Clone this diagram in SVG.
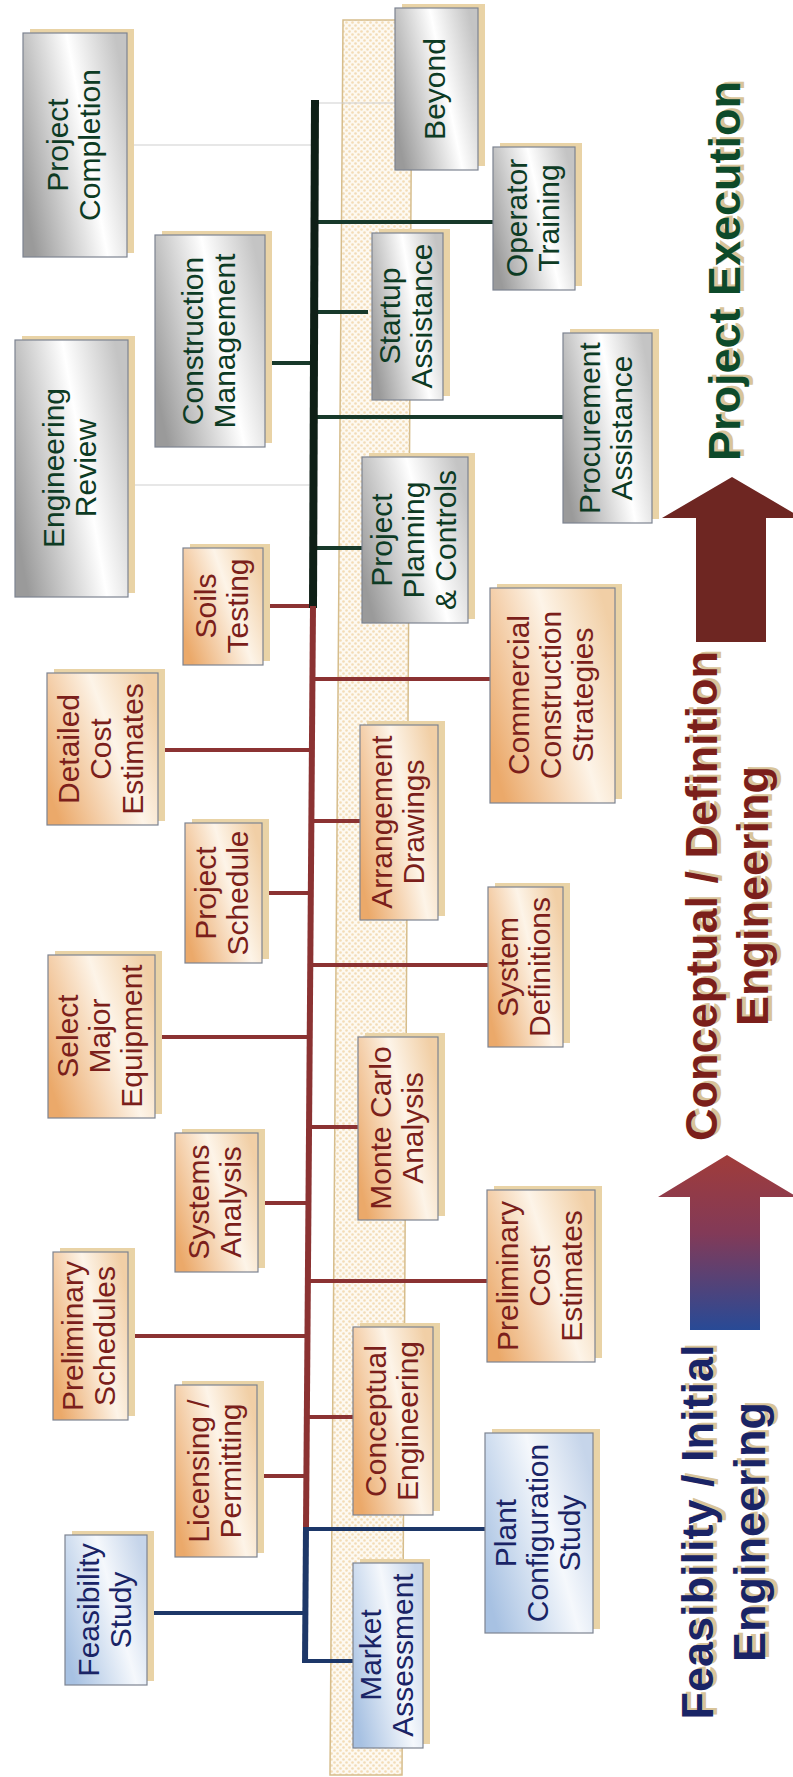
<svg xmlns="http://www.w3.org/2000/svg" width="793" height="1777" viewBox="0 0 793 1777">
<defs>
<style>
.box{stroke:#7d8491;stroke-width:1.2}
.g{fill:url(#gGrey)}
.o{fill:url(#gOrange)}
.b{fill:url(#gBlue)}
.sh{fill:#e9d3a6}
.t{font-family:"Liberation Sans",Arial,sans-serif;font-size:30px;text-anchor:middle}
.tg{fill:#0d3b24}
.tr{fill:#7b1f1b}
.tb{fill:#1a2466}
.cg{stroke:#17392a;stroke-width:4;fill:none}
.cr{stroke:#8b3232;stroke-width:4;fill:none}
.cb{stroke:#1d3768;stroke-width:4;fill:none}
.thin{stroke:#cfcfcf;stroke-width:1.2;fill:none}
.big{font-family:"Liberation Sans",Arial,sans-serif;font-size:45px;font-weight:bold;text-anchor:middle}
.bsh{fill:#d8c49a}
</style>
<linearGradient id="gGrey" x1="0" y1="0.7" x2="1" y2="0.3">
<stop offset="0" stop-color="#9a9a9a"/><stop offset="0.6" stop-color="#ffffff"/><stop offset="1" stop-color="#c4c4c4"/>
</linearGradient>
<linearGradient id="gOrange" x1="0" y1="0.75" x2="1" y2="0.25">
<stop offset="0" stop-color="#eba96a"/><stop offset="0.6" stop-color="#fdf4e8"/><stop offset="1" stop-color="#f1cfa6"/>
</linearGradient>
<linearGradient id="gBlue" x1="0" y1="0.75" x2="1" y2="0.25">
<stop offset="0" stop-color="#a7c1e2"/><stop offset="0.6" stop-color="#f5f8fc"/><stop offset="1" stop-color="#c6d5ea"/>
</linearGradient>
<linearGradient id="gArrow" x1="0" y1="0" x2="0" y2="1">
<stop offset="0" stop-color="#a03c3a"/><stop offset="0.45" stop-color="#823a58"/><stop offset="1" stop-color="#284a96"/>
</linearGradient>
<pattern id="dots" width="6" height="6" patternUnits="userSpaceOnUse">
<rect width="6" height="6" fill="#fdf9f1"/>
<circle cx="1.5" cy="1.5" r="1.3" fill="#f3dcb6"/>
<circle cx="4.5" cy="4.5" r="1.3" fill="#f3dcb6"/>
</pattern>
</defs>
<rect width="793" height="1777" fill="#ffffff"/>

<g id="band">
<polygon points="343,20 412,20 402,1775 330,1775" fill="url(#dots)" stroke="#d6bd8c" stroke-width="1.5"/>
</g>

<g id="connectors">
<line class="thin" x1="127" y1="145" x2="313" y2="145"/>
<line class="thin" x1="128" y1="485" x2="313" y2="485"/>
<line class="thin" x1="315" y1="103" x2="395" y2="103"/>
<line class="cg" x1="265" y1="363" x2="315" y2="363"/>
<line class="cg" x1="315" y1="312" x2="368" y2="312"/>
<line class="cg" x1="315" y1="222" x2="493" y2="222"/>
<line class="cg" x1="315" y1="417" x2="563" y2="417"/>
<line class="cg" x1="314" y1="548" x2="362" y2="548"/>
<line class="cr" x1="263" y1="606" x2="313" y2="606"/>
<line class="cr" x1="312" y1="679" x2="490" y2="679"/>
<line class="cr" x1="158" y1="750" x2="312" y2="750"/>
<line class="cr" x1="312" y1="821" x2="360" y2="821"/>
<line class="cr" x1="262" y1="893" x2="311" y2="893"/>
<line class="cr" x1="311" y1="965" x2="488" y2="965"/>
<line class="cr" x1="155" y1="1037" x2="310" y2="1037"/>
<line class="cr" x1="310" y1="1127" x2="358" y2="1127"/>
<line class="cr" x1="258" y1="1203" x2="309" y2="1203"/>
<line class="cr" x1="309" y1="1281" x2="487" y2="1281"/>
<line class="cr" x1="128" y1="1336" x2="308" y2="1336"/>
<line class="cr" x1="308" y1="1417" x2="353" y2="1417"/>
<line class="cr" x1="257" y1="1476" x2="307" y2="1476"/>
<line class="cb" x1="305" y1="1529" x2="485" y2="1529"/>
<line class="cb" x1="147" y1="1613" x2="305" y2="1613"/>
<line class="cb" x1="305" y1="1661" x2="353" y2="1661"/>
<line x1="315" y1="100" x2="313" y2="608" stroke="#0e1f16" stroke-width="8"/>
<line x1="313" y1="606" x2="306" y2="1529" stroke="#8b3232" stroke-width="6"/>
<line x1="306" y1="1527" x2="305" y2="1663" stroke="#1d3768" stroke-width="6"/>
</g>

<g id="n-project-completion"><rect class="sh" x="30" y="29" width="104" height="224"/><rect class="box g" x="23" y="33" width="104" height="224"/>
<text class="t tg" transform="translate(75,145) rotate(-90)"><tspan x="0" y="-7">Project</tspan><tspan x="0" y="25">Completion</tspan></text></g>
<g id="n-engineering-review"><rect class="sh" x="22" y="336" width="113" height="257"/><rect class="box g" x="15" y="340" width="113" height="257"/>
<text class="t tg" transform="translate(71,468) rotate(-90)"><tspan x="0" y="-7">Engineering</tspan><tspan x="0" y="25">Review</tspan></text></g>
<g id="n-construction-management"><rect class="sh" x="162" y="231" width="110" height="212"/><rect class="box g" x="155" y="235" width="110" height="212"/>
<text class="t tg" transform="translate(210,341) rotate(-90)"><tspan x="0" y="-7">Construction</tspan><tspan x="0" y="25">Management</tspan></text></g>
<g id="n-beyond"><rect class="sh" x="402" y="4" width="83" height="162"/><rect class="box g" x="395" y="8" width="83" height="162"/>
<text class="t tg" transform="translate(436,89) rotate(-90)"><tspan x="0" y="9">Beyond</tspan></text></g>
<g id="n-startup-assistance"><rect class="sh" x="379" y="229" width="71" height="167"/><rect class="box g" x="372" y="233" width="71" height="167"/>
<text class="t tg" transform="translate(407,316) rotate(-90)"><tspan x="0" y="-7">Startup</tspan><tspan x="0" y="25">Assistance</tspan></text></g>
<g id="n-operator-training"><rect class="sh" x="500" y="143" width="82" height="143"/><rect class="box g" x="493" y="147" width="82" height="143"/>
<text class="t tg" transform="translate(534,218) rotate(-90)"><tspan x="0" y="-7">Operator</tspan><tspan x="0" y="25">Training</tspan></text></g>
<g id="n-procurement-assistance"><rect class="sh" x="570" y="329" width="89" height="190"/><rect class="box g" x="563" y="333" width="89" height="190"/>
<text class="t tg" transform="translate(607,428) rotate(-90)"><tspan x="0" y="-7">Procurement</tspan><tspan x="0" y="25">Assistance</tspan></text></g>
<g id="n-project-planning"><rect class="sh" x="369" y="453" width="106" height="166"/><rect class="box g" x="362" y="457" width="106" height="166"/>
<text class="t tg" transform="translate(415,540) rotate(-90)"><tspan x="0" y="-23">Project</tspan><tspan x="0" y="9">Planning</tspan><tspan x="0" y="41">&amp; Controls</tspan></text></g>

<g id="n-soils-testing"><rect class="sh" x="190" y="544" width="80" height="117"/><rect class="box o" x="183" y="548" width="80" height="117"/>
<text class="t tr" transform="translate(223,606) rotate(-90)"><tspan x="0" y="-7">Soils</tspan><tspan x="0" y="25">Testing</tspan></text></g>
<g id="n-commercial"><rect class="sh" x="497" y="584" width="125" height="215"/><rect class="box o" x="490" y="588" width="125" height="215"/>
<text class="t tr" transform="translate(552,695) rotate(-90)"><tspan x="0" y="-23">Commercial</tspan><tspan x="0" y="9">Construction</tspan><tspan x="0" y="41">Strategies</tspan></text></g>
<g id="n-detailed-cost"><rect class="sh" x="54" y="669" width="111" height="152"/><rect class="box o" x="47" y="673" width="111" height="152"/>
<text class="t tr" transform="translate(102,749) rotate(-90)"><tspan x="0" y="-23">Detailed</tspan><tspan x="0" y="9">Cost</tspan><tspan x="0" y="41">Estimates</tspan></text></g>
<g id="n-arrangement"><rect class="sh" x="367" y="721" width="78" height="195"/><rect class="box o" x="360" y="725" width="78" height="195"/>
<text class="t tr" transform="translate(399,822) rotate(-90)"><tspan x="0" y="-7">Arrangement</tspan><tspan x="0" y="25">Drawings</tspan></text></g>
<g id="n-project-schedule"><rect class="sh" x="192" y="819" width="77" height="140"/><rect class="box o" x="185" y="823" width="77" height="140"/>
<text class="t tr" transform="translate(223,893) rotate(-90)"><tspan x="0" y="-7">Project</tspan><tspan x="0" y="25">Schedule</tspan></text></g>
<g id="n-system-definitions"><rect class="sh" x="495" y="883" width="75" height="160"/><rect class="box o" x="488" y="887" width="75" height="160"/>
<text class="t tr" transform="translate(525,967) rotate(-90)"><tspan x="0" y="-7">System</tspan><tspan x="0" y="25">Definitions</tspan></text></g>
<g id="n-select-major"><rect class="sh" x="55" y="951" width="107" height="163"/><rect class="box o" x="48" y="955" width="107" height="163"/>
<text class="t tr" transform="translate(101,1036) rotate(-90)"><tspan x="0" y="-23">Select</tspan><tspan x="0" y="9">Major</tspan><tspan x="0" y="41">Equipment</tspan></text></g>
<g id="n-monte-carlo"><rect class="sh" x="365" y="1033" width="80" height="183"/><rect class="box o" x="358" y="1037" width="80" height="183"/>
<text class="t tr" transform="translate(398,1128) rotate(-90)"><tspan x="0" y="-7">Monte Carlo</tspan><tspan x="0" y="25">Analysis</tspan></text></g>
<g id="n-systems-analysis"><rect class="sh" x="182" y="1129" width="83" height="139"/><rect class="box o" x="175" y="1133" width="83" height="139"/>
<text class="t tr" transform="translate(216,1202) rotate(-90)"><tspan x="0" y="-7">Systems</tspan><tspan x="0" y="25">Analysis</tspan></text></g>
<g id="n-preliminary-cost"><rect class="sh" x="494" y="1186" width="108" height="172"/><rect class="box o" x="487" y="1190" width="108" height="172"/>
<text class="t tr" transform="translate(541,1276) rotate(-90)"><tspan x="0" y="-23">Preliminary</tspan><tspan x="0" y="9">Cost</tspan><tspan x="0" y="41">Estimates</tspan></text></g>
<g id="n-preliminary-schedules"><rect class="sh" x="60" y="1248" width="75" height="168"/><rect class="box o" x="53" y="1252" width="75" height="168"/>
<text class="t tr" transform="translate(90,1336) rotate(-90)"><tspan x="0" y="-7">Preliminary</tspan><tspan x="0" y="25">Schedules</tspan></text></g>
<g id="n-conceptual-engineering"><rect class="sh" x="360" y="1323" width="80" height="188"/><rect class="box o" x="353" y="1327" width="80" height="188"/>
<text class="t tr" transform="translate(393,1421) rotate(-90)"><tspan x="0" y="-7">Conceptual</tspan><tspan x="0" y="25">Engineering</tspan></text></g>
<g id="n-licensing"><rect class="sh" x="182" y="1381" width="82" height="172"/><rect class="box o" x="175" y="1385" width="82" height="172"/>
<text class="t tr" transform="translate(216,1471) rotate(-90)"><tspan x="0" y="-7">Licensing /</tspan><tspan x="0" y="25">Permitting</tspan></text></g>

<g id="n-plant-configuration"><rect class="sh" x="492" y="1429" width="108" height="200"/><rect class="box b" x="485" y="1433" width="108" height="200"/>
<text class="t tb" transform="translate(539,1533) rotate(-90)"><tspan x="0" y="-23">Plant</tspan><tspan x="0" y="9">Configuration</tspan><tspan x="0" y="41">Study</tspan></text></g>
<g id="n-feasibility-study"><rect class="sh" x="72" y="1531" width="82" height="150"/><rect class="box b" x="65" y="1535" width="82" height="150"/>
<text class="t tb" transform="translate(106,1610) rotate(-90)"><tspan x="0" y="-7">Feasibility</tspan><tspan x="0" y="25">Study</tspan></text></g>
<g id="n-market-assessment"><rect class="sh" x="360" y="1559" width="70" height="185"/><rect class="box b" x="353" y="1563" width="70" height="185"/>
<text class="t tb" transform="translate(388,1655) rotate(-90)"><tspan x="0" y="-7">Market</tspan><tspan x="0" y="25">Assessment</tspan></text></g>

<g id="phase-arrows">
<polygon points="732,477 802,518 766,518 766,642 696,642 696,518 662,518" fill="#6e2622"/>
<polygon points="727,1155 797,1197 760,1197 760,1330 690,1330 690,1197 658,1197" fill="url(#gArrow)"/>
</g>

<g id="phase-labels">
<text class="big bsh" transform="translate(744,269) rotate(-90)"><tspan x="0" y="0">Project Execution</tspan></text>
<text class="big" fill="#0d4a2a" transform="translate(740,271) rotate(-90)"><tspan x="0" y="0">Project Execution</tspan></text>
<text class="big bsh" transform="translate(721,894) rotate(-90)"><tspan x="0" y="0">Conceptual / Definition</tspan><tspan x="0" y="51">Engineering</tspan></text>
<text class="big" fill="#7b1f1b" transform="translate(717,896) rotate(-90)"><tspan x="0" y="0">Conceptual / Definition</tspan><tspan x="0" y="51">Engineering</tspan></text>
<text class="big bsh" transform="translate(717,1530) rotate(-90)"><tspan x="0" y="0">Feasibility / Initial</tspan><tspan x="0" y="52">Engineering</tspan></text>
<text class="big" fill="#1a2466" transform="translate(713,1532) rotate(-90)"><tspan x="0" y="0">Feasibility / Initial</tspan><tspan x="0" y="52">Engineering</tspan></text>
</g>
</svg>
